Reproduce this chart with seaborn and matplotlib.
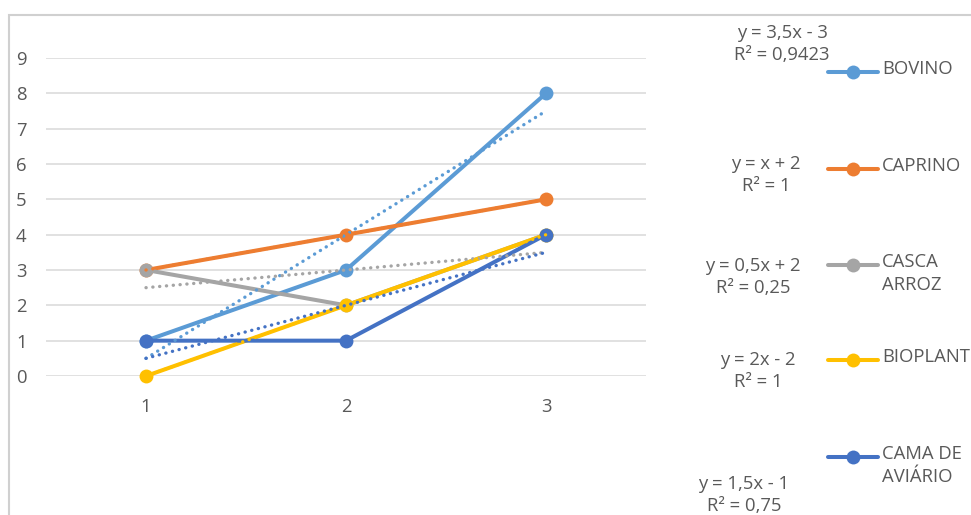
import numpy as np
import pandas as pd
import seaborn as sns
import matplotlib.pyplot as plt
from matplotlib.lines import Line2D
from matplotlib.patches import Rectangle

# --- data -------------------------------------------------------------
periodos = [1, 2, 3]
bovino = [1, 3, 8]
caprino = [3, 4, 5]
casca_arroz = [3, 2, 4]
bioplant = [0, 2, 4]
cama_aviario = [1, 1, 4]
nomes = ["BOVINO", "CAPRINO", "CASCA\nARROZ", "BIOPLANT", "CAMA DE\nAVIÁRIO"]
y_ticks = list(range(0, 10))

cores = ["#5B9BD5", "#ED7D31", "#A5A5A5", "#FFC000", "#4472C4"]
texto = "#595959"

series = [bovino, caprino, casca_arroz, bioplant, cama_aviario]
df = pd.DataFrame({
    "x": periodos * len(series),
    "y": [v for s in series for v in s],
    "serie": [n for n in nomes for _ in periodos],
})

sns.set_style("white")
plt.rcParams["font.family"] = ["Open Sans", "DejaVu Sans"]

W, H = 971, 515
FS = 13.3
fig = plt.figure(figsize=(W / 100, H / 100), dpi=100)


def px(x, y):
    return x / W, 1 - y / H


# outer chart frame
fig.add_artist(Rectangle(px(9, 520), (W + 20) / W, (520 - 15) / H,
                         transform=fig.transFigure, fill=False,
                         edgecolor="#D0D0D0", linewidth=1.5))

ax = fig.add_axes([46 / W, 1 - 376 / H, 600 / W, 318 / H])

sns.lineplot(data=df, x="x", y="y", hue="serie", hue_order=nomes,
             palette=cores, marker="o", markersize=10, markeredgewidth=0,
             linewidth=2.9, legend=False, ax=ax, clip_on=False, zorder=3)

# linear trendlines
for vals, cor in zip(series, cores):
    sns.regplot(x=periodos, y=vals, ci=None, scatter=False, truncate=True,
                color=cor, ax=ax,
                line_kws=dict(linestyle=(0, (0.05, 2.0)), linewidth=2.4,
                              dash_capstyle="round", zorder=4))

ax.set_xlim(0.5, 3.5)
ax.set_ylim(0, 9)
ax.set_xticks(periodos)
ax.set_yticks(y_ticks)
ax.set_xlabel("")
ax.set_ylabel("")
for s in ax.spines.values():
    s.set_visible(False)
ax.grid(axis="y", color="#D9D9D9", linewidth=1.1)
ax.grid(axis="x", visible=False)
ax.set_axisbelow(True)
ax.tick_params(axis="both", length=0, labelsize=FS, colors=texto)
ax.tick_params(axis="y", pad=14)
ax.tick_params(axis="x", pad=16)


def fmt_num(v):
    s = f"{v:.4f}".rstrip("0").rstrip(".")
    return s.replace(".", ",")


def equacao(xs, ys):
    a, b = np.polyfit(xs, ys, 1)
    pred = np.polyval([a, b], xs)
    ys = np.asarray(ys, float)
    r2 = 1 - np.sum((ys - pred) ** 2) / np.sum((ys - ys.mean()) ** 2)
    a, b = round(a, 4), round(b, 4)
    termo = "x" if a == 1 else f"{fmt_num(a)}x"
    sinal = "+" if b >= 0 else "-"
    return f"y = {termo} {sinal} {fmt_num(abs(b))}\nR² = {fmt_num(r2)}"


# trendline equation labels
eq_pos = [(782, 44), (766, 175), (753, 277), (758, 371), (744, 495)]
for vals, (ex, ey) in zip(series, eq_pos):
    fig.text(*px(ex, ey), equacao(periodos, vals), ha="center", va="center",
             fontsize=FS, color=texto, linespacing=1.35)

# legend entries
leg_y = [72, 169, 265, 360, 457]
for nome, cor, ly in zip(nomes, cores, leg_y):
    x0, y0 = px(828, ly)
    x1, _ = px(878, ly)
    fig.add_artist(Line2D([x0, x1], [y0, y0], transform=fig.transFigure,
                          color=cor, linewidth=2.9))
    xm, _ = px(853, ly)
    fig.add_artist(Line2D([xm], [y0], transform=fig.transFigure, color=cor,
                          marker="o", markersize=10, markeredgewidth=0))
    fig.text(*px(882, ly - 12), nome, ha="left", va="top", fontsize=FS,
             color=texto, linespacing=1.35)

fig.savefig("out.png", dpi=100)
